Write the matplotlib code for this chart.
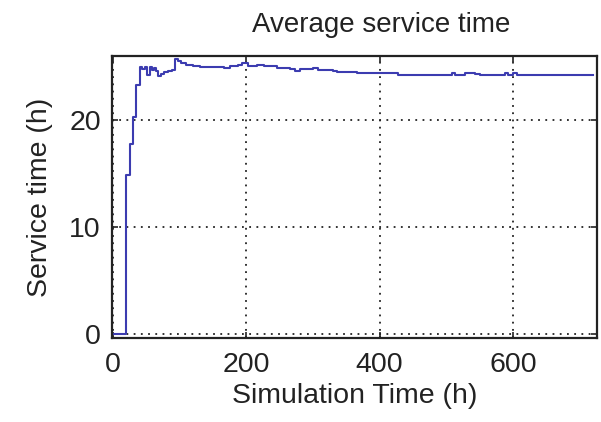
import matplotlib
matplotlib.use("Agg")
import matplotlib.pyplot as plt

plt.rcParams['font.family'] = ['Liberation Sans', 'DejaVu Sans']

# running average of service time
sim_time = [0, 19, 25, 30, 34, 40, 44, 48, 51, 55, 58, 61, 64, 68, 72, 76,
            82, 88, 93, 97, 102, 110, 120, 130, 145, 166, 176, 187, 193, 203,
            216, 226, 246, 266, 273, 281, 300, 308, 330, 336, 361, 366, 396,
            405, 428, 503, 508, 513, 528, 543, 551, 583, 588, 593, 600, 606, 720]
service = [0, 14.9, 17.8, 20.3, 23.3, 25.0, 24.8, 25.0, 24.2, 25.0, 24.7, 24.9,
           24.6, 24.1, 24.3, 24.5, 24.6, 24.7, 25.7, 25.5, 25.3, 25.2, 25.1, 25.0,
           24.95, 24.9, 25.05, 25.2, 25.3, 25.1, 25.2, 25.05, 24.9, 24.8, 24.6,
           24.8, 24.85, 24.7, 24.6, 24.5, 24.5, 24.4, 24.4, 24.45, 24.2, 24.2,
           24.45, 24.2, 24.4, 24.35, 24.2, 24.2, 24.45, 24.25, 24.45, 24.2, 24.2]

xticks = [0, 200, 400, 600]
yticks = [0, 10, 20]

fig = plt.figure(figsize=(6.01, 4.22), dpi=100)
ax = fig.add_axes([112 / 601, 1 - 338 / 422, 485 / 601, 282 / 422])

ax.plot(sim_time, service, drawstyle='steps-post', color='#3c3cb0', lw=1.5)

ax.set_xlim(-1.5, 726)
ax.set_ylim(-0.35, 26)
ax.set_xticks(xticks)
ax.set_yticks(yticks)

# dotted grid, matlab style
ax.grid(True, color='#222222', linestyle=(0, (1, 3)), linewidth=1.3)
for s in ax.spines.values():
    s.set_linewidth(1.6)
    s.set_color('#222222')

ax.tick_params(direction='in', length=4, width=1.2, top=True, right=True,
               labelsize=20.5, pad=8, colors='#222222')
ax.tick_params(axis='x', pad=10)

ax.set_xlabel('Simulation Time (h)', fontsize=20.5, labelpad=4, color='#222222')
ax.set_ylabel('Service time (h)', fontsize=20.5, labelpad=12, color='#222222')
fig.text(381 / 601, 1 - 32 / 422, 'Average service time', fontsize=20,
         ha='center', va='baseline', color='#222222')

fig.savefig('out.png', dpi=100)
